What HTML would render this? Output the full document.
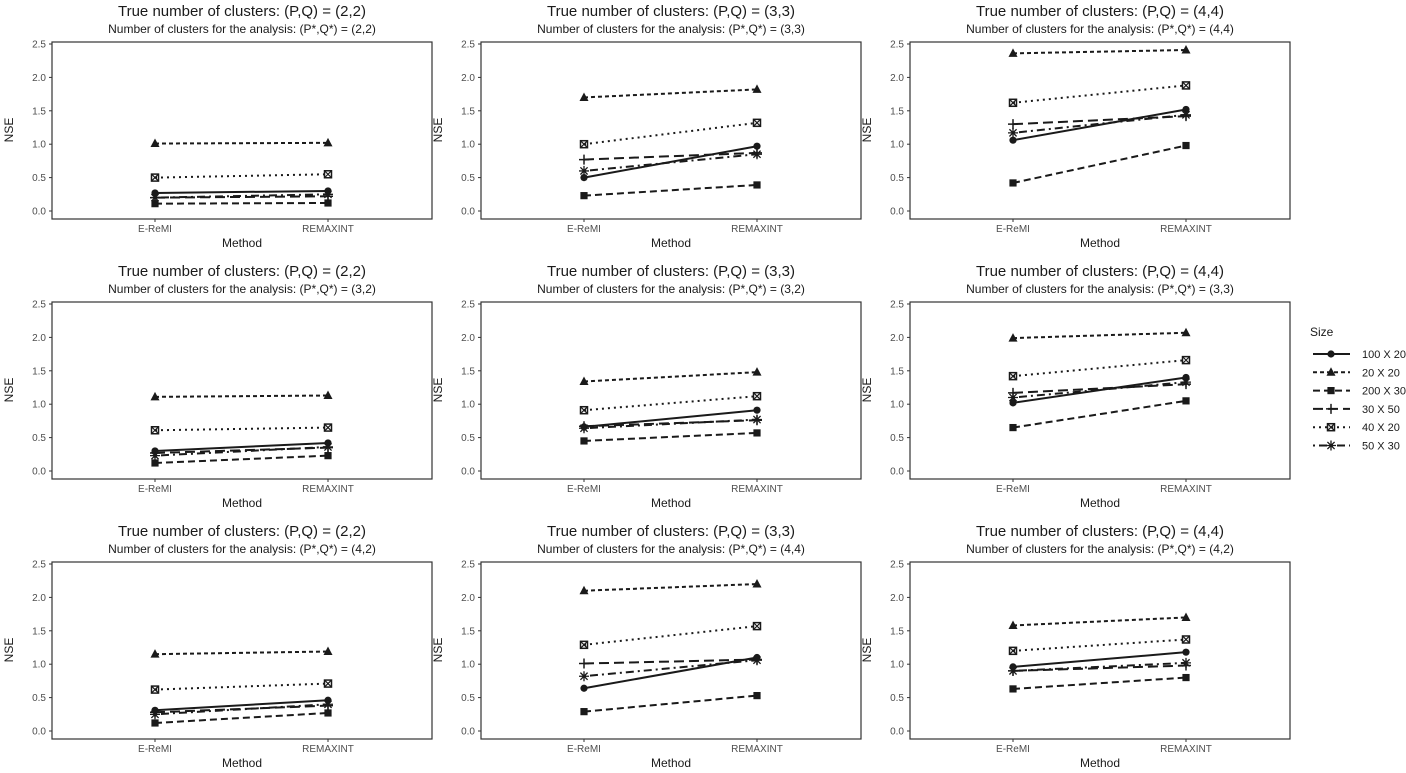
<!DOCTYPE html>
<html><head><meta charset="utf-8"><style>
body{margin:0;background:#fff;}
svg{display:block;font-family:"Liberation Sans",sans-serif;}
</style></head><body>
<svg id="c" width="1406" height="773" viewBox="0 0 1406 773"></svg>
<script>
const methods=["E-ReMI","REMAXINT"];
const sizes=["100 X 20","20 X 20","200 X 30","30 X 50","40 X 20","50 X 30"];
const yTicks=[0,0.5,1,1.5,2,2.5];
const trueLabels=[["(2,2)","(3,3)","(4,4)"],["(2,2)","(3,3)","(4,4)"],["(2,2)","(3,3)","(4,4)"]];
const anaLabels=[["(2,2)","(3,3)","(4,4)"],["(3,2)","(3,2)","(3,3)"],["(4,2)","(4,4)","(4,2)"]];
// values per panel: [series][method]
const p11=[[0.27,0.30],[1.01,1.02],[0.11,0.12],[0.20,0.22],[0.50,0.55],[0.20,0.25]];
const p12=[[0.50,0.97],[1.70,1.82],[0.23,0.39],[0.77,0.87],[1.00,1.32],[0.60,0.85]];
const p13=[[1.06,1.52],[2.36,2.41],[0.42,0.98],[1.30,1.42],[1.62,1.88],[1.17,1.44]];
const p21=[[0.30,0.42],[1.11,1.13],[0.12,0.23],[0.27,0.35],[0.61,0.65],[0.23,0.36]];
const p22=[[0.66,0.91],[1.34,1.48],[0.45,0.57],[0.67,0.76],[0.91,1.12],[0.64,0.77]];
const p23=[[1.02,1.40],[1.99,2.07],[0.65,1.05],[1.17,1.30],[1.42,1.66],[1.10,1.33]];
const p31=[[0.31,0.46],[1.15,1.19],[0.12,0.27],[0.28,0.38],[0.62,0.71],[0.25,0.40]];
const p32=[[0.64,1.10],[2.10,2.20],[0.29,0.53],[1.01,1.07],[1.29,1.57],[0.82,1.06]];
const p33=[[0.96,1.18],[1.58,1.70],[0.63,0.80],[0.90,0.98],[1.20,1.37],[0.90,1.02]];
const panels=[[p11,p12,p13],[p21,p22,p23],[p31,p32,p33]];

const dashes=["","4 3","7 4","10 5","2 4","2 4 8 4"];
const NS="http://www.w3.org/2000/svg";
const svg=document.getElementById('c');
function mk(tag,attrs,parent){const e=document.createElementNS(NS,tag);for(const k in attrs)e.setAttribute(k,attrs[k]);(parent||svg).appendChild(e);return e;}
function marker(g,k,x,y){
  if(k===0){mk('circle',{cx:x,cy:y,r:3.6,fill:'#1a1a1a'},g);}
  else if(k===1){mk('polygon',{points:`${x},${y-5} ${x-4.5},${y+3.5} ${x+4.5},${y+3.5}`,fill:'#1a1a1a'},g);}
  else if(k===2){mk('rect',{x:x-3.6,y:y-3.6,width:7.2,height:7.2,fill:'#1a1a1a'},g);}
  else if(k===3){mk('path',{d:`M${x-5},${y}H${x+5}M${x},${y-5}V${y+5}`,stroke:'#1a1a1a','stroke-width':1.5,fill:'none'},g);}
  else if(k===4){mk('rect',{x:x-3.5,y:y-3.5,width:7,height:7,fill:'none',stroke:'#1a1a1a','stroke-width':1.5},g);
    mk('path',{d:`M${x-3.5},${y-3.5}L${x+3.5},${y+3.5}M${x+3.5},${y-3.5}L${x-3.5},${y+3.5}`,stroke:'#1a1a1a','stroke-width':1.2},g);}
  else {mk('path',{d:`M${x-5},${y}H${x+5}M${x},${y-5}V${y+5}M${x-3.6},${y-3.6}L${x+3.6},${y+3.6}M${x+3.6},${y-3.6}L${x-3.6},${y+3.6}`,stroke:'#1a1a1a','stroke-width':1.3,fill:'none'},g);}
}
for(let r=0;r<3;r++)for(let c=0;c<3;c++){
  const ox=c*429, oy=r*260;
  const g=mk('g',{});
  
  
  const yS=v=>211+oy-v*66.8;
  const xS=i=>ox+155+i*173;
  const t=mk('text',{x:ox+242,y:oy+16,'text-anchor':'middle','font-size':15,fill:'#1a1a1a'},g);
  t.textContent='True number of clusters: (P,Q) = '+trueLabels[r][c];
  
  
  const st=mk('text',{x:ox+242,y:oy+33,'text-anchor':'middle','font-size':12,fill:'#1a1a1a'},g);
  st.textContent='Number of clusters for the analysis: (P*,Q*) = '+anaLabels[r][c];
  
  
  mk('rect',{x:ox+52,y:oy+42,width:380,height:177,fill:'none',stroke:'#333','stroke-width':1.2},g);
  yTicks.forEach(v=>{
    mk('line',{x1:ox+49,x2:ox+52,y1:yS(v),y2:yS(v),stroke:'#333'},g);
    const tl=mk('text',{x:ox+46,y:yS(v)+3.5,'text-anchor':'end','font-size':10,fill:'#4d4d4d'},g);
    tl.textContent=v.toFixed(1);
    
    
  });
  methods.forEach((m,i)=>{
    mk('line',{x1:xS(i),x2:xS(i),y1:oy+219,y2:oy+222,stroke:'#333'},g);
    const xl=mk('text',{x:xS(i),y:oy+232,'text-anchor':'middle','font-size':10,fill:'#4d4d4d'},g);
    xl.textContent=m;
    
    
  });
  const xt=mk('text',{x:ox+242,y:oy+247,'text-anchor':'middle','font-size':12,fill:'#1a1a1a'},g);
  xt.textContent='Method';
  
  
  const yt=mk('text',{x:0,y:0,'text-anchor':'middle','font-size':12,fill:'#1a1a1a',transform:`translate(${ox+13},${oy+130}) rotate(-90)`},g);
  yt.textContent='NSE';
  
  
  panels[r][c].forEach((vals,k)=>{
    const sg=mk('g',{},g);
    
    
    mk('line',{x1:xS(0),y1:yS(vals[0]),x2:xS(1),y2:yS(vals[1]),stroke:'#1a1a1a','stroke-width':2,'stroke-dasharray':dashes[k]},sg);
    vals.forEach((v,i)=>marker(sg,k,xS(i),yS(v)));
  });
}
const lg=mk('g',{});


const lt=mk('text',{x:1310,y:336,'font-size':12,fill:'#1a1a1a'},lg);
lt.textContent='Size';
sizes.forEach((s,k)=>{
  const y=354+k*18.3;
  const e=mk('g',{},lg);
  
  
  mk('line',{x1:1313,x2:1350,y1:y,y2:y,stroke:'#1a1a1a','stroke-width':2,'stroke-dasharray':dashes[k]},e);
  marker(e,k,1331,y);
  const tx=mk('text',{x:1362,y:y+4,'font-size':11,fill:'#1a1a1a'},e);
  tx.textContent=s;
});
</script>
</body></html>
